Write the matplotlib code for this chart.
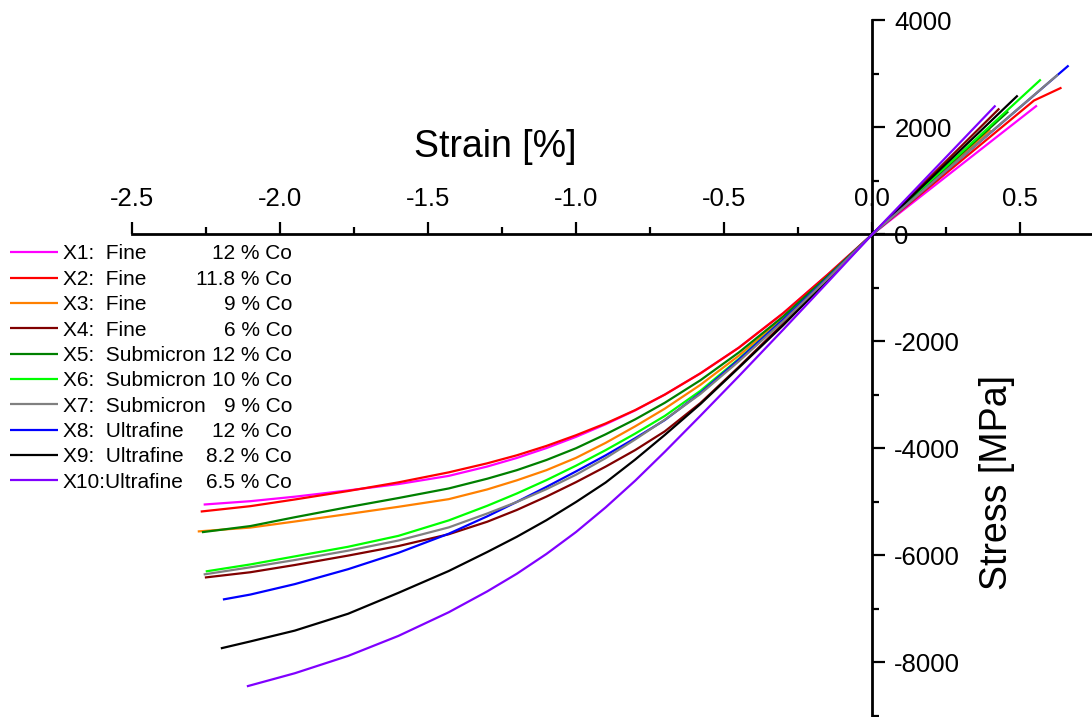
import matplotlib
matplotlib.use("Agg")
import matplotlib.pyplot as plt
from matplotlib.ticker import MultipleLocator, FixedLocator

plt.rcParams['font.family'] = ['Liberation Sans', 'DejaVu Sans']
plt.rcParams['axes.unicode_minus'] = False

# ---------------- data (strain in %, stress in MPa) ----------------
labels = ["X1:  Fine", "X2:  Fine", "X3:  Fine", "X4:  Fine",
          "X5:  Submicron", "X6:  Submicron", "X7:  Submicron",
          "X8:  Ultrafine", "X9:  Ultrafine", "X10:Ultrafine"]
co_labels = ["12 % Co", "11.8 % Co", "9 % Co", "6 % Co", "12 % Co",
             "10 % Co", "9 % Co", "12 % Co", "8.2 % Co", "6.5 % Co"]
colors = ["#FF00FF", "#FF0000", "#FF8000", "#800000", "#008000",
          "#00FF00", "#808080", "#0000FF", "#000000", "#8000FF"]
zorders = [2, 2, 2, 2, 2, 2, 2.5, 2.2, 2, 2.6]

# common strain samples on the compressive branch (between the end point and 0)
grid = [-2.1, -1.95, -1.77, -1.6, -1.43, -1.3, -1.2, -1.1, -1.0,
        -0.9, -0.8, -0.7, -0.58, -0.45, -0.3, -0.15, 0.0]

x1_strain = [-2.258] + grid + [0.557]
x1_stress = [-5048, -4985, -4901, -4784, -4665, -4512, -4337, -4177, -3992,
             -3782, -3547, -3287, -2992, -2596, -2115, -1470, -750, 0, 2411]
x2_strain = [-2.268] + grid + [0.547, 0.640]
x2_stress = [-5179, -5078, -4953, -4795, -4633, -4446, -4277, -4127, -3952,
             -3752, -3532, -3282, -2992, -2596, -2115, -1470, -750, 0,
             2504, 2745]
x3_strain = [-2.278] + grid + [0.40]
x3_stress = [-5551, -5478, -5365, -5225, -5090, -4947, -4765, -4595, -4405,
             -4175, -3895, -3585, -3255, -2811, -2265, -1560, -795, 0, 1960]
x4_strain = [-2.254] + grid + [0.43]
x4_stress = [-6412, -6313, -6178, -6002, -5824, -5603, -5369, -5149, -4899,
             -4629, -4339, -4029, -3679, -3151, -2475, -1665, -840, 0, 2355]
x5_strain = [-2.264] + grid + [0.46]
x5_stress = [-5565, -5450, -5285, -5096, -4926, -4747, -4565, -4405, -4215,
             -3995, -3735, -3455, -3145, -2725, -2205, -1530, -780, 0, 2300]
x6_strain = [-2.251] + grid + [0.570]
x6_stress = [-6298, -6167, -6017, -5837, -5633, -5344, -5071, -4841, -4591,
             -4321, -4031, -3721, -3391, -2923, -2325, -1590, -810, 0, 2897]
x7_strain = [-2.258] + grid + [0.628]
x7_stress = [-6355, -6220, -6085, -5910, -5720, -5475, -5215, -5000, -4760,
             -4490, -4180, -3830, -3461, -2981, -2370, -1620, -825, 0, 2990]
x8_strain = [-2.193] + grid + [0.664]
x8_stress = [-6823, -6730, -6535, -6256, -5950, -5593, -5268, -4998, -4718,
             -4428, -4128, -3808, -3468, -2964, -2340, -1590, -810, 0, 3159]
x9_strain = [-2.2] + grid + [0.492]
x9_stress = [-7736, -7606, -7404, -7089, -6698, -6290, -5935, -5650, -5340,
             -5000, -4636, -4206, -3746, -3170, -2490, -1695, -855, 0, 2598]
x10_strain = [-2.112] + grid[1:] + [0.417]
x10_stress = [-8446, -8201, -7877, -7503, -7061, -6671, -6341, -5971,
              -5561, -5101, -4601, -4061, -3389, -2648, -1778, -893, 0, 2411]

strains = [x1_strain, x2_strain, x3_strain, x4_strain, x5_strain,
           x6_strain, x7_strain, x8_strain, x9_strain, x10_strain]
stresses = [x1_stress, x2_stress, x3_stress, x4_stress, x5_stress,
            x6_stress, x7_stress, x8_stress, x9_stress, x10_stress]

x_ticks = [-2.5, -2.0, -1.5, -1.0, -0.5, 0.0, 0.5]
x_ticklabels = ["-2.5", "-2.0", "-1.5", "-1.0", "-0.5", "0.0", "0.5"]
x_minor = [-2.25, -1.75, -1.25, -0.75, -0.25, 0.25]
y_ticks = [-8000, -6000, -4000, -2000, 0, 2000, 4000]
y_ticklabels = ["-8000", "-6000", "-4000", "-2000", "0", "2000", "4000"]

# ---------------- figure ----------------
W, H = 1092, 717
fig = plt.figure(figsize=(W / 100, H / 100), dpi=100)
ax = fig.add_axes([0, 0, 1, 1])
ax.patch.set_alpha(0)

xmin, xmax = -2.946, 0.743
ymin, ymax = -9019, 4383
ax.set_xlim(xmin, xmax)
ax.set_ylim(ymin, ymax)

handles = []
for s, t, c, lab, z in zip(strains, stresses, colors, labels, zorders):
    h, = ax.plot(s, t, color=c, lw=1.6, solid_joinstyle='round',
                 solid_capstyle='butt', label=lab, zorder=z)
    handles.append(h)

# spines crossing at origin
ax.spines['left'].set_visible(False)
ax.spines['bottom'].set_visible(False)
ax.spines['top'].set_position(('data', 0))
ax.spines['right'].set_position(('data', 0))
ax.spines['top'].set_bounds(-2.5, xmax)
ax.spines['right'].set_bounds(ymin, 4000)
for sp in ('top', 'right'):
    ax.spines[sp].set_linewidth(2.0)
    ax.spines[sp].set_zorder(1)

ax.xaxis.set_ticks_position('top')
ax.yaxis.set_ticks_position('right')
ax.xaxis.set_major_locator(FixedLocator(x_ticks))
ax.set_xticklabels(x_ticklabels)
ax.xaxis.set_minor_locator(FixedLocator(x_minor))
ax.yaxis.set_major_locator(FixedLocator(y_ticks))
ax.set_yticklabels(y_ticklabels)
ax.yaxis.set_minor_locator(MultipleLocator(1000))
ax.tick_params(which='major', direction='out', length=9, width=1.6,
               labelsize=18.5)
ax.tick_params(which='minor', direction='out', length=5, width=1.6)
ax.tick_params(axis='x', which='major', pad=8)
ax.tick_params(axis='y', which='major', pad=7)

# axis titles
fig.text(495 / W, 1 - 157 / H, "Strain [%]", fontsize=27,
         ha='center', va='baseline')
fig.text(997 / W, 1 - 483 / H, "Stress [MPa]", fontsize=27,
         rotation=90, ha='center', va='center')

# legend
leg = ax.legend(handles=handles, loc='upper left',
                bbox_to_anchor=(10 / W, 1 - 244.5 / H),
                bbox_transform=fig.transFigure, frameon=False,
                fontsize=15, handlelength=2.3, handletextpad=0.24,
                borderpad=0, borderaxespad=0, labelspacing=0.305)
fig.canvas.draw()
for txt, co in zip(leg.get_texts(), co_labels):
    bb = txt.get_window_extent()
    yc = 0.5 * (bb.y0 + bb.y1)
    fig.text(292 / W, yc / H, co, ha='right', va='center', fontsize=15)

fig.savefig("out.png", dpi=100)
